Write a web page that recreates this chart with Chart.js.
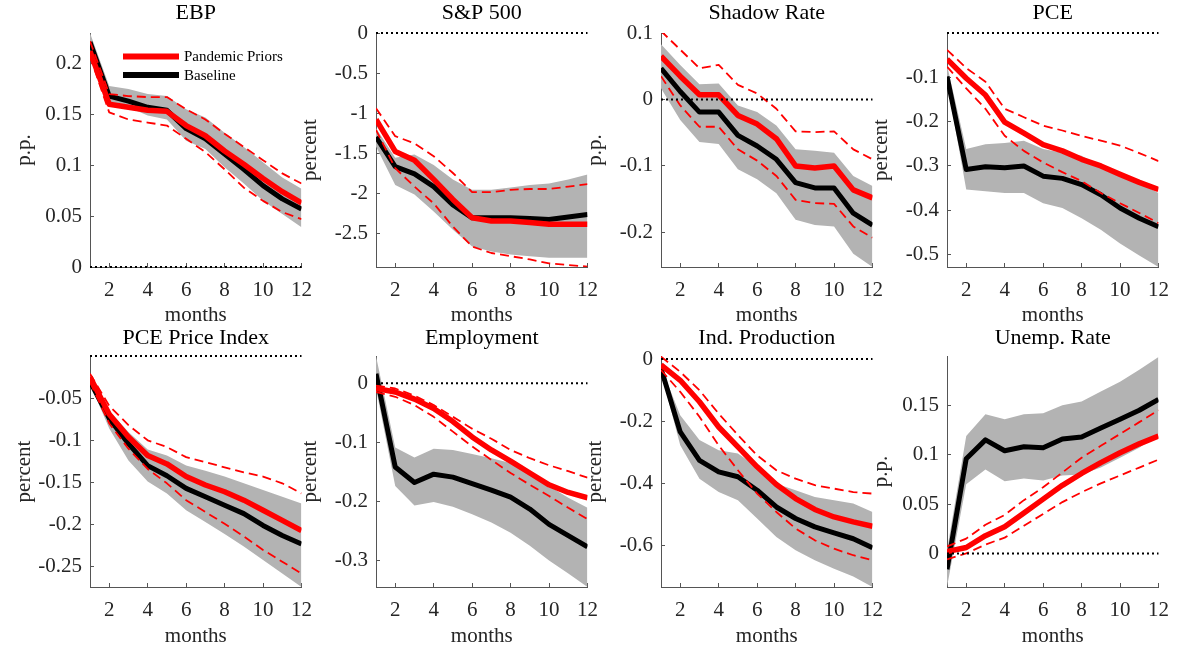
<!DOCTYPE html>
<html>
<head>
<meta charset="utf-8">
<script src="https://cdn.jsdelivr.net/npm/chart.js@4.4.0/dist/chart.umd.min.js"></script>
<style>
  body { margin: 0; background: #fff; width: 1186px; height: 650px; overflow: hidden; position: relative; }
  canvas { position: absolute; }
</style>
</head>
<body>
<canvas id="c0"></canvas><canvas id="c1"></canvas><canvas id="c2"></canvas><canvas id="c3"></canvas>
<canvas id="c4"></canvas><canvas id="c5"></canvas><canvas id="c6"></canvas><canvas id="c7"></canvas>
<script>
const months = [1, 2, 3, 4, 5, 6, 7, 8, 9, 10, 11, 12];
const xTicks = [2, 4, 6, 8, 10, 12];
const seriesNames = ['Pandemic Priors', 'Baseline'];

// EBP
const ebpBase    = [0.221, 0.168, 0.163, 0.157, 0.154, 0.136, 0.126, 0.111, 0.096, 0.080, 0.067, 0.057];
const ebpPand    = [0.212, 0.160, 0.157, 0.154, 0.153, 0.139, 0.129, 0.114, 0.101, 0.087, 0.074, 0.063];
const ebpBandHi  = [0.230, 0.178, 0.175, 0.170, 0.168, 0.155, 0.147, 0.132, 0.118, 0.103, 0.088, 0.077];
const ebpBandLo  = [0.212, 0.163, 0.157, 0.149, 0.145, 0.124, 0.116, 0.098, 0.082, 0.065, 0.052, 0.039];
const ebpPandHi  = [0.222, 0.170, 0.168, 0.167, 0.167, 0.155, 0.145, 0.131, 0.118, 0.105, 0.092, 0.082];
const ebpPandLo  = [0.207, 0.152, 0.145, 0.142, 0.139, 0.126, 0.113, 0.096, 0.078, 0.065, 0.054, 0.047];
const ebpTicks   = [0, 0.05, 0.1, 0.15, 0.2];

// S&P 500
const spBase     = [-1.30, -1.67, -1.76, -1.92, -2.15, -2.31, -2.31, -2.31, -2.32, -2.33, -2.30, -2.27];
const spPand     = [-1.08, -1.48, -1.59, -1.83, -2.08, -2.31, -2.35, -2.35, -2.37, -2.39, -2.39, -2.39];
const spBandHi   = [-1.19, -1.56, -1.52, -1.65, -1.83, -1.96, -1.96, -1.93, -1.90, -1.88, -1.83, -1.77];
const spBandLo   = [-1.42, -1.90, -2.02, -2.23, -2.46, -2.67, -2.73, -2.77, -2.79, -2.81, -2.81, -2.81];
const spPandHi   = [-0.94, -1.29, -1.38, -1.54, -1.75, -1.99, -1.99, -1.96, -1.95, -1.95, -1.92, -1.89];
const spPandLo   = [-1.21, -1.69, -1.92, -2.13, -2.42, -2.67, -2.75, -2.79, -2.83, -2.88, -2.90, -2.92];
const spTicks    = [-2.5, -2, -1.5, -1, -0.5, 0];

// Shadow Rate
const srBase     = [0.047, 0.012, -0.019, -0.019, -0.054, -0.070, -0.090, -0.125, -0.133, -0.133, -0.171, -0.189];
const srPand     = [0.065, 0.035, 0.007, 0.007, -0.024, -0.037, -0.059, -0.100, -0.103, -0.100, -0.136, -0.148];
const srBandHi   = [0.083, 0.052, 0.023, 0.024, -0.009, -0.019, -0.039, -0.075, -0.077, -0.080, -0.115, -0.130];
const srBandLo   = [0.017, -0.031, -0.064, -0.067, -0.105, -0.120, -0.141, -0.181, -0.189, -0.191, -0.232, -0.252];
const srPandHi   = [0.103, 0.075, 0.047, 0.052, 0.022, 0.009, -0.014, -0.048, -0.049, -0.048, -0.075, -0.090];
const srPandLo   = [0.035, -0.009, -0.041, -0.041, -0.075, -0.092, -0.115, -0.151, -0.156, -0.157, -0.191, -0.208];
const srTicks    = [-0.2, -0.1, 0, 0.1];

// PCE
const pceBase    = [-0.098, -0.308, -0.302, -0.304, -0.300, -0.323, -0.328, -0.342, -0.365, -0.395, -0.418, -0.437];
const pcePand    = [-0.059, -0.102, -0.140, -0.201, -0.226, -0.252, -0.266, -0.285, -0.300, -0.319, -0.337, -0.353];
const pceBandHi  = [-0.072, -0.262, -0.251, -0.248, -0.243, -0.262, -0.270, -0.277, -0.300, -0.319, -0.338, -0.361];
const pceBandLo  = [-0.110, -0.353, -0.357, -0.361, -0.361, -0.384, -0.395, -0.418, -0.444, -0.475, -0.502, -0.528];
const pcePandHi  = [-0.038, -0.079, -0.110, -0.171, -0.190, -0.209, -0.220, -0.232, -0.243, -0.254, -0.271, -0.289];
const pcePandLo  = [-0.076, -0.125, -0.171, -0.232, -0.266, -0.292, -0.314, -0.334, -0.361, -0.384, -0.406, -0.429];
const pceTicks   = [-0.5, -0.4, -0.3, -0.2, -0.1];

// PCE Price Index
const ppiBase    = [-0.030, -0.074, -0.104, -0.130, -0.142, -0.157, -0.167, -0.177, -0.187, -0.201, -0.213, -0.223];
const ppiPand    = [-0.025, -0.069, -0.096, -0.118, -0.128, -0.143, -0.153, -0.161, -0.171, -0.183, -0.195, -0.207];
const ppiBandHi  = [-0.023, -0.065, -0.090, -0.111, -0.118, -0.130, -0.136, -0.143, -0.151, -0.159, -0.167, -0.175];
const ppiBandLo  = [-0.033, -0.086, -0.124, -0.149, -0.163, -0.183, -0.197, -0.211, -0.226, -0.242, -0.258, -0.274];
const ppiPandHi  = [-0.021, -0.059, -0.082, -0.100, -0.108, -0.120, -0.126, -0.132, -0.138, -0.143, -0.151, -0.163];
const ppiPandLo  = [-0.031, -0.080, -0.110, -0.134, -0.151, -0.171, -0.185, -0.199, -0.214, -0.230, -0.244, -0.258];
const ppiTicks   = [-0.25, -0.2, -0.15, -0.1, -0.05];

// Employment
const empBase    = [0.016, -0.142, -0.168, -0.154, -0.159, -0.170, -0.181, -0.193, -0.213, -0.239, -0.258, -0.277];
const empPand    = [-0.009, -0.015, -0.027, -0.043, -0.065, -0.091, -0.113, -0.132, -0.152, -0.172, -0.185, -0.194];
const empBandHi  = [0.046, -0.109, -0.126, -0.111, -0.113, -0.120, -0.127, -0.135, -0.155, -0.174, -0.194, -0.211];
const empBandLo  = [-0.009, -0.174, -0.207, -0.201, -0.209, -0.222, -0.236, -0.253, -0.275, -0.300, -0.322, -0.345];
const empPandHi  = [-0.004, -0.009, -0.021, -0.037, -0.057, -0.077, -0.094, -0.113, -0.127, -0.139, -0.149, -0.160];
const empPandLo  = [-0.015, -0.023, -0.037, -0.057, -0.082, -0.107, -0.130, -0.152, -0.172, -0.191, -0.211, -0.230];
const empTicks   = [-0.3, -0.2, -0.1, 0];

// Ind. Production
const ipBase     = [-0.030, -0.234, -0.325, -0.362, -0.378, -0.421, -0.475, -0.512, -0.539, -0.558, -0.577, -0.606];
const ipPand     = [-0.019, -0.068, -0.137, -0.218, -0.282, -0.346, -0.403, -0.448, -0.483, -0.507, -0.523, -0.537];
const ipBandHi   = [-0.025, -0.180, -0.260, -0.293, -0.303, -0.346, -0.400, -0.421, -0.443, -0.453, -0.464, -0.491];
const ipBandLo   = [-0.041, -0.277, -0.384, -0.427, -0.453, -0.512, -0.571, -0.614, -0.646, -0.673, -0.698, -0.732];
const ipPandHi   = [0.008, -0.041, -0.100, -0.175, -0.244, -0.309, -0.357, -0.384, -0.405, -0.416, -0.427, -0.432];
const ipPandLo   = [-0.035, -0.105, -0.185, -0.277, -0.357, -0.432, -0.491, -0.544, -0.582, -0.609, -0.630, -0.646];
const ipTicks    = [-0.6, -0.4, -0.2, 0];

// Unemp. Rate
const urBase     = [-0.016, 0.096, 0.115, 0.104, 0.108, 0.107, 0.116, 0.118, 0.127, 0.136, 0.145, 0.156];
const urPand     = [0.002, 0.006, 0.018, 0.027, 0.041, 0.055, 0.069, 0.081, 0.092, 0.102, 0.111, 0.119];
const urBandHi   = [0.003, 0.119, 0.141, 0.136, 0.141, 0.142, 0.150, 0.154, 0.164, 0.174, 0.186, 0.199];
const urBandLo   = [-0.034, 0.070, 0.085, 0.073, 0.076, 0.074, 0.079, 0.080, 0.087, 0.097, 0.107, 0.121];
const urPandHi   = [0.007, 0.015, 0.029, 0.039, 0.054, 0.067, 0.082, 0.097, 0.109, 0.121, 0.133, 0.145];
const urPandLo   = [-0.006, 0.000, 0.009, 0.016, 0.028, 0.040, 0.052, 0.062, 0.071, 0.079, 0.087, 0.095];
const urTicks    = [0, 0.05, 0.1, 0.15];

const titles = ['EBP', 'S&P 500', 'Shadow Rate', 'PCE', 'PCE Price Index', 'Employment', 'Ind. Production', 'Unemp. Rate'];
const units  = ['p.p.', 'percent', 'p.p.', 'percent', 'percent', 'percent', 'percent', 'p.p.'];
const yMins  = [0, -2.925, -0.252, -0.528, -0.274, -0.345, -0.732, -0.034];
const yMaxs  = [0.23, 0, 0.1, 0, 0, 0.046, 0.01, 0.2];

const panels = [
    [ebpBase, ebpPand, ebpBandHi, ebpBandLo, ebpPandHi, ebpPandLo, ebpTicks],
    [spBase, spPand, spBandHi, spBandLo, spPandHi, spPandLo, spTicks],
    [srBase, srPand, srBandHi, srBandLo, srPandHi, srPandLo, srTicks],
    [pceBase, pcePand, pceBandHi, pceBandLo, pcePandHi, pcePandLo, pceTicks],
    [ppiBase, ppiPand, ppiBandHi, ppiBandLo, ppiPandHi, ppiPandLo, ppiTicks],
    [empBase, empPand, empBandHi, empBandLo, empPandHi, empPandLo, empTicks],
    [ipBase, ipPand, ipBandHi, ipBandLo, ipPandHi, ipPandLo, ipTicks],
    [urBase, urPand, urBandHi, urBandLo, urPandHi, urPandLo, urTicks]
];

// layout of the 2x4 grid (plot area boxes)
const FONT = '"Liberation Serif", "Times New Roman", serif';
const colLeft = [90, 376, 661, 947];
const plotW = 217;
const yAxisW = 80;
const padRight = 20;
const rowCanvasTop = [0, 325];
const rowPlotTop = [33, 356];
const rowPlotBottom = [267, 587];
const canvasH = 325;

const toXY = arr => arr.map((v, i) => ({ x: months[i], y: v }));

// legend drawn inside the EBP panel
const insideLegend = {
    id: 'insideLegend',
    afterDatasetsDraw(chart) {
        const { ctx, chartArea } = chart;
        const colors = ['#ff0000', '#000000'];
        seriesNames.forEach((name, i) => {
            const y = chartArea.top + 23.5 + i * 18.5;
            const x0 = chartArea.left + 33;
            ctx.save();
            ctx.strokeStyle = colors[i];
            ctx.lineWidth = 6;
            ctx.beginPath();
            ctx.moveTo(x0, y);
            ctx.lineTo(x0 + 56, y);
            ctx.stroke();
            ctx.fillStyle = '#000';
            ctx.font = '15px ' + FONT;
            ctx.textBaseline = 'middle';
            ctx.fillText(name, x0 + 61, y + 1);
            ctx.restore();
        });
    }
};

panels.forEach((p, k) => {
    const [base, pand, bandHi, bandLo, pandHi, pandLo, yTicks] = p;
    const row = Math.floor(k / 4), col = k % 4;
    const canvas = document.getElementById('c' + k);
    const cw = yAxisW + plotW + padRight;
    canvas.width = cw;
    canvas.height = canvasH;
    canvas.style.left = (colLeft[col] - yAxisW) + 'px';
    canvas.style.top = rowCanvasTop[row] + 'px';
    const titleH = rowPlotTop[row] - rowCanvasTop[row];
    const xAxisH = canvasH - (rowPlotBottom[row] - rowCanvasTop[row]);

    new Chart(canvas, {
        type: 'line',
        data: {
            datasets: [
                { label: 'zero', data: [{ x: months[0], y: 0 }, { x: months[months.length - 1], y: 0 }],
                  borderColor: '#000', borderWidth: 2, borderDash: [2, 3], clip: false, fill: false },
                { label: 'pandHi', data: toXY(pandHi), borderColor: '#ff0000', borderWidth: 1.8, borderDash: [9, 5], fill: false },
                { label: 'pandLo', data: toXY(pandLo), borderColor: '#ff0000', borderWidth: 1.8, borderDash: [9, 5], fill: false },
                { label: seriesNames[0], data: toXY(pand), borderColor: '#ff0000', borderWidth: 5.5, fill: false },
                { label: seriesNames[1], data: toXY(base), borderColor: '#000000', borderWidth: 5, fill: false },
                { label: 'bandHi', data: toXY(bandHi), borderWidth: 0, borderColor: 'rgba(0,0,0,0)', backgroundColor: '#b3b3b3', fill: '+1' },
                { label: 'bandLo', data: toXY(bandLo), borderWidth: 0, borderColor: 'rgba(0,0,0,0)', fill: false }
            ]
        },
        options: {
            responsive: false,
            animation: false,
            events: [],
            layout: { padding: { left: 0, right: padRight, top: 0, bottom: 0 } },
            elements: { point: { radius: 0 }, line: { tension: 0, borderJoinStyle: 'round' } },
            plugins: {
                legend: { display: false },
                tooltip: { enabled: false },
                filler: { drawTime: 'beforeDatasetsDraw' },
                title: {
                    display: true,
                    text: titles[k],
                    fullSize: false,
                    color: '#000',
                    font: { family: FONT, size: 22, weight: 'normal', lineHeight: 1.2 },
                    padding: { top: 0, bottom: titleH - 26.4 }
                }
            },
            scales: {
                x: {
                    type: 'linear',
                    min: months[0],
                    max: months[months.length - 1],
                    afterBuildTicks: s => { s.ticks = xTicks.map(v => ({ value: v })); },
                    afterFit: s => { s.height = xAxisH; },
                    grid: { display: true, drawOnChartArea: false, drawTicks: true, tickLength: -4, color: '#555' },
                    border: { display: true, color: '#555', width: 1 },
                    ticks: { color: '#262626', font: { family: FONT, size: 21 }, padding: 15, maxRotation: 0, callback: v => String(v) },
                    title: { display: true, text: 'months', color: '#262626', font: { family: FONT, size: 21, lineHeight: 0.8 }, padding: { top: 0, bottom: row === 0 ? 1.5 : 5.5 } }
                },
                y: {
                    type: 'linear',
                    min: yMins[k],
                    max: yMaxs[k],
                    afterBuildTicks: s => { s.ticks = yTicks.map(v => ({ value: v })); },
                    afterFit: s => { s.width = yAxisW; },
                    grid: { display: true, drawOnChartArea: false, drawTicks: true, tickLength: -4, color: '#555' },
                    border: { display: true, color: '#555', width: 1 },
                    ticks: { color: '#262626', font: { family: FONT, size: 21 }, padding: 12, callback: v => String(v) },
                    title: { display: true, text: units[k], color: '#262626', font: { family: FONT, size: 21, lineHeight: 1.2 }, padding: { top: 2, bottom: 0 } }
                }
            }
        },
        plugins: k === 0 ? [insideLegend] : []
    });
});
</script>
</body>
</html>
